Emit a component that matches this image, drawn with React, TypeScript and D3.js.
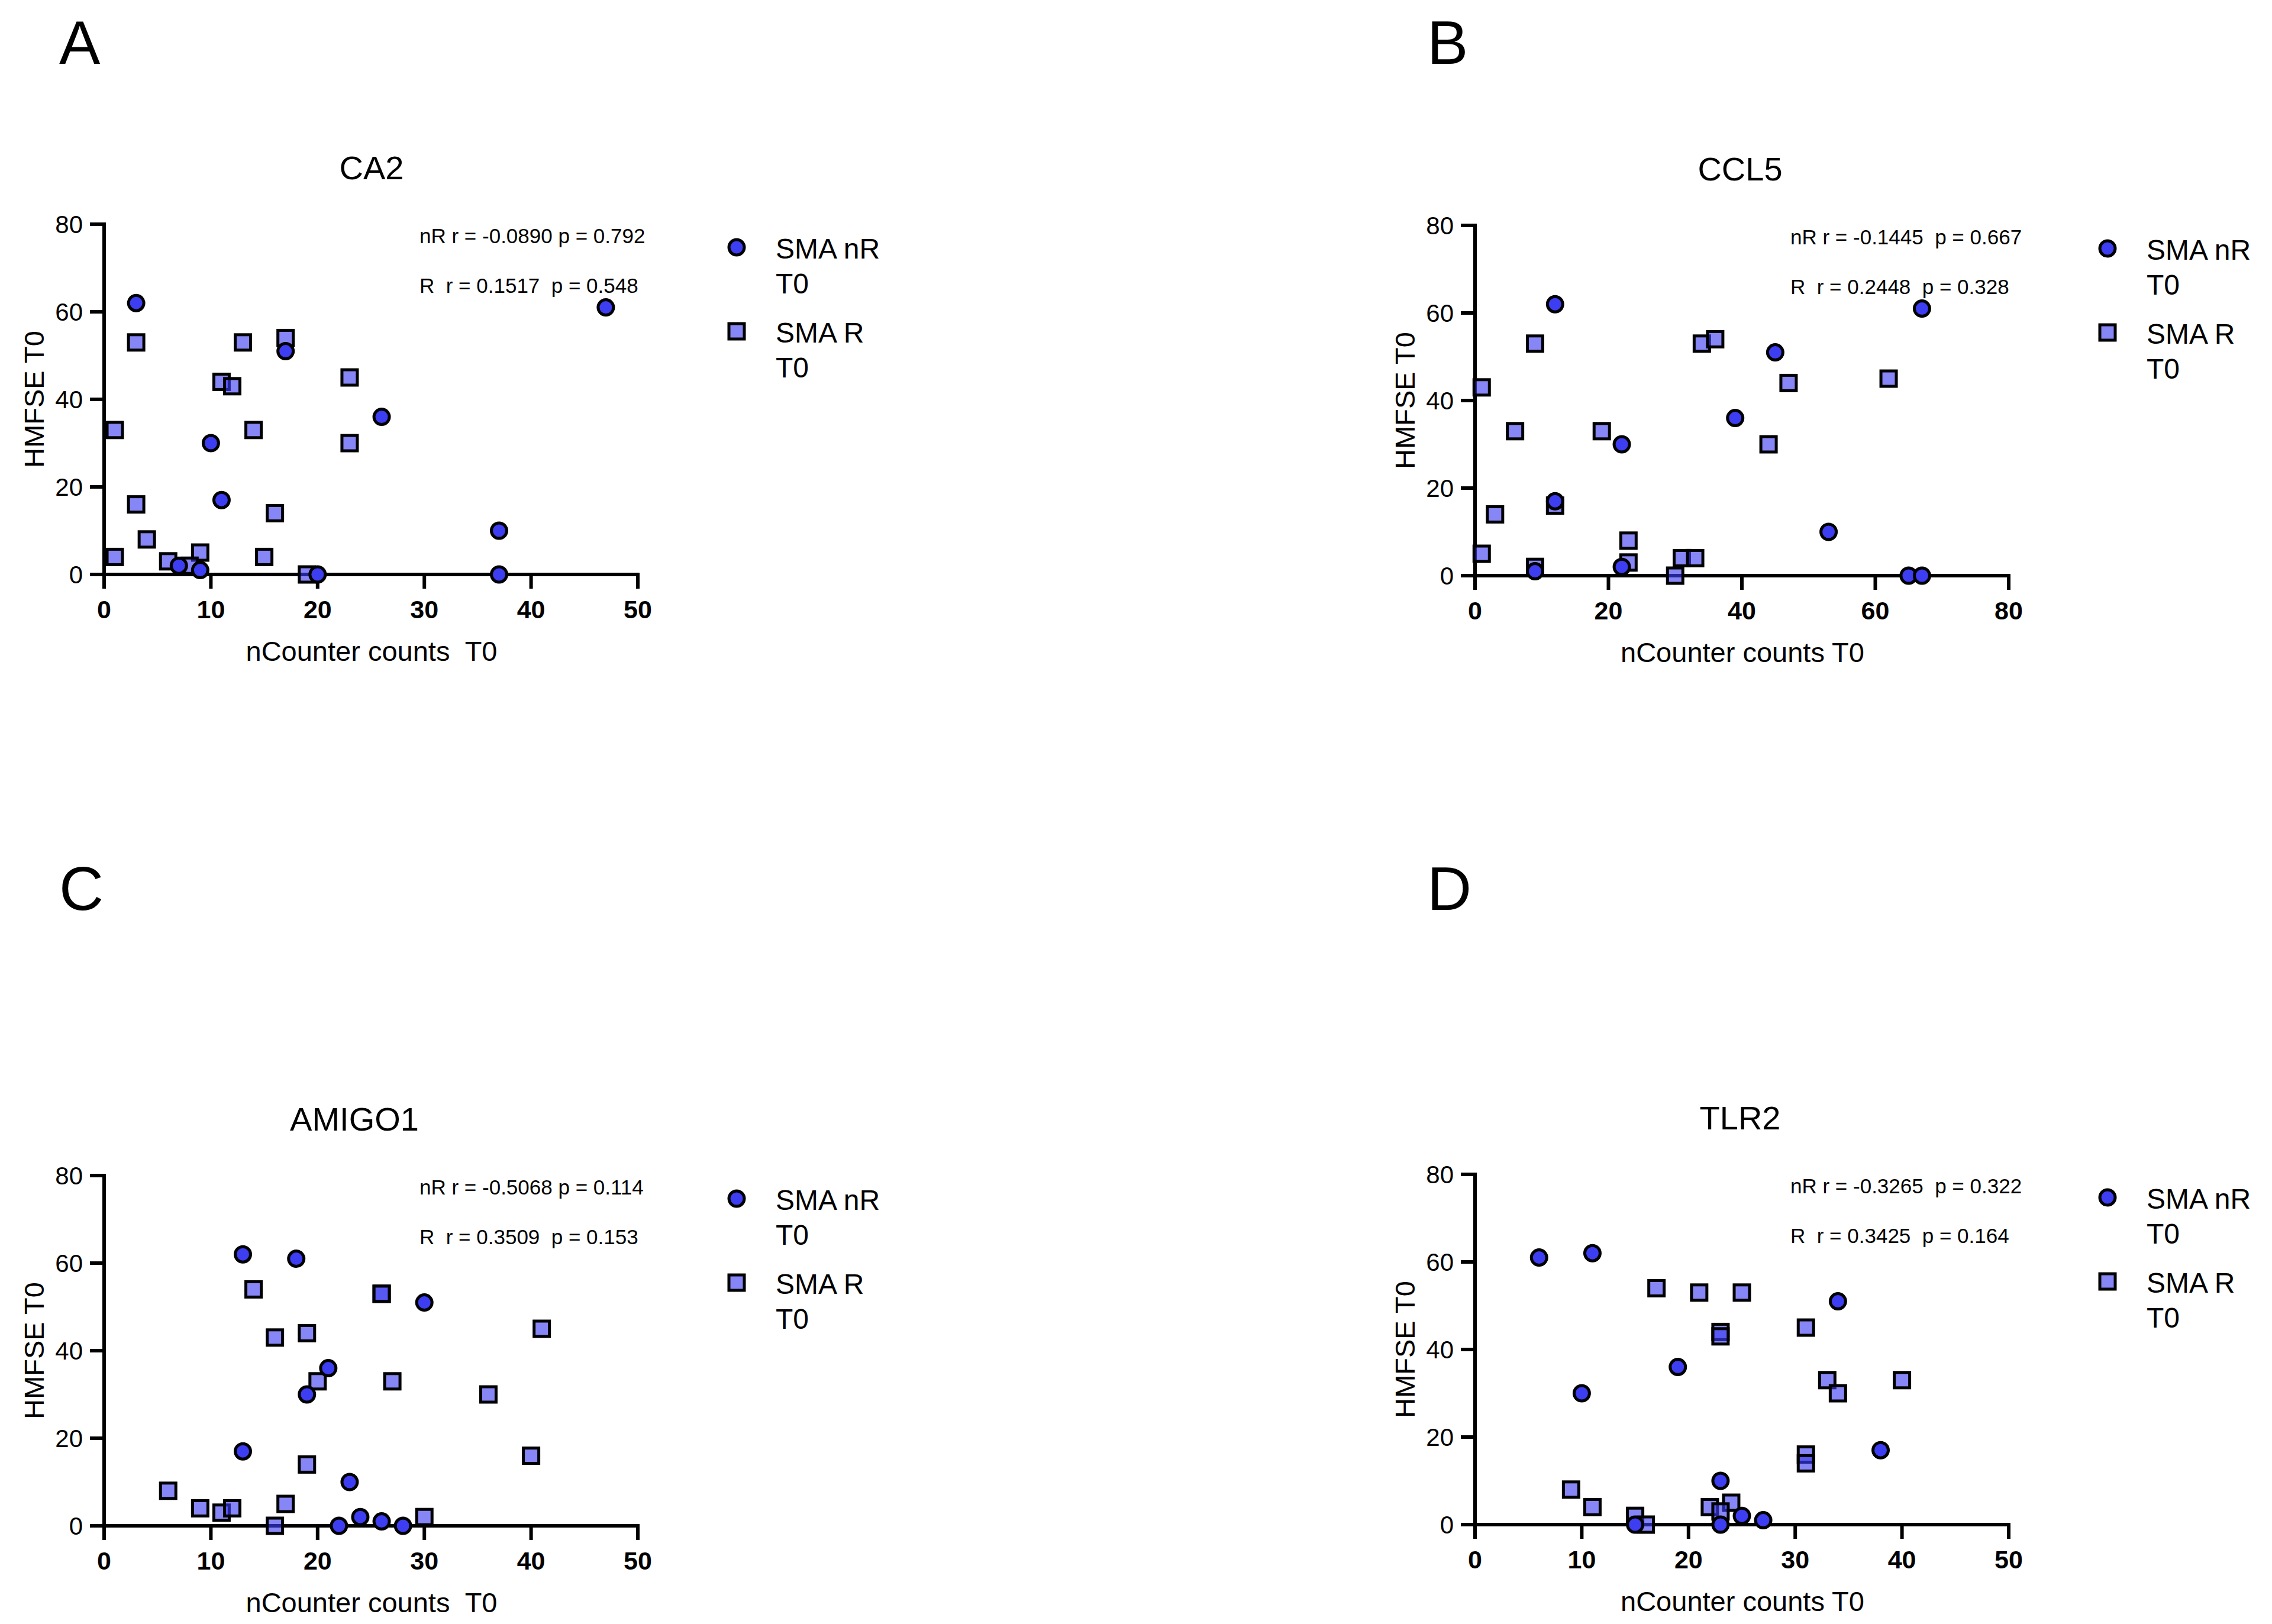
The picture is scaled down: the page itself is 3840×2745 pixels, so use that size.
import * as d3 from "d3";

// HMFSE T0 vs nCounter counts T0, per gene. nR = circles, R = squares
const caNRx = [3, 47, 17, 26, 10, 11, 37, 37, 7, 9, 20];
const caNRy = [62, 61, 51, 36, 30, 17, 10, 0, 2, 1, 0];
const caRx = [3, 17, 13, 11, 12, 23, 1, 14, 23, 3, 16, 4, 1, 15, 9, 6, 8, 19];
const caRy = [53, 54, 53, 44, 43, 45, 33, 33, 30, 16, 14, 8, 4, 4, 5, 3, 2, 0];

const cclNRx = [12, 67, 45, 39, 22, 12, 53, 65, 67, 22, 9];
const cclNRy = [62, 61, 51, 36, 30, 17, 10, 0, 0, 2, 1];
const cclRx = [1, 9, 6, 19, 34, 36, 47, 62, 44, 3, 12, 1, 23, 23, 31, 33, 9, 30];
const cclRy = [43, 53, 33, 33, 53, 54, 44, 45, 30, 14, 16, 5, 8, 3, 4, 4, 2, 0];

const amiNRx = [13, 18, 30, 21, 19, 13, 23, 24, 26, 22, 28];
const amiNRy = [62, 61, 51, 36, 30, 17, 10, 2, 1, 0, 0];
const amiRx = [14, 26, 26, 16, 19, 41, 20, 27, 36, 40, 19, 6, 9, 11, 12, 17, 16, 30];
const amiRy = [54, 53, 53, 43, 44, 45, 33, 33, 30, 16, 14, 8, 4, 3, 4, 5, 0, 2];

const tlrNRx = [6, 11, 34, 19, 10, 38, 23, 25, 27, 15, 23];
const tlrNRy = [61, 62, 51, 36, 30, 17, 10, 2, 1, 0, 0];
const tlrRx = [17, 21, 25, 23, 23, 31, 33, 40, 34, 31, 31, 9, 11, 15, 16, 22, 24, 23];
const tlrRy = [54, 53, 53, 44, 43, 45, 33, 33, 30, 16, 14, 8, 4, 2, 0, 4, 5, 3];

const titles = ["CA2", "CCL5", "AMIGO1", "TLR2"];
const letters = ["A", "B", "C", "D"];
const xLabels = ["nCounter counts  T0", "nCounter counts T0", "nCounter counts  T0", "nCounter counts T0"];
const xMax = [50, 80, 50, 50];
const xStep = [10, 20, 10, 10];
const statsNR = [
  "nR r = -0.0890 p = 0.792",
  "nR r = -0.1445  p = 0.667",
  "nR r = -0.5068 p = 0.114",
  "nR r = -0.3265  p = 0.322",
];
const statsR = [
  "R  r = 0.1517  p = 0.548",
  "R  r = 0.2448  p = 0.328",
  "R  r = 0.3509  p = 0.153",
  "R  r = 0.3425  p = 0.164",
];
const yTicks = [0, 20, 40, 60, 80];

const series = [
  { nrx: caNRx, nry: caNRy, rx: caRx, ry: caRy },
  { nrx: cclNRx, nry: cclNRy, rx: cclRx, ry: cclRy },
  { nrx: amiNRx, nry: amiNRy, rx: amiRx, ry: amiRy },
  { nrx: tlrNRx, nry: tlrNRy, rx: tlrRx, ry: tlrRy },
];

// layout
const W = 902;
const H = 592;
const layout = [
  { ox: 176, oy: 379, lx: 100, ly: 108, tdx: 452 },
  { ox: 2493, oy: 381, lx: 2412, ly: 108, tdx: 448 },
  { ox: 176, oy: 1987, lx: 100, ly: 1538, tdx: 423 },
  { ox: 2493, oy: 1985, lx: 2412, ly: 1538, tdx: 448 },
];

const FONT = "'Liberation Sans', Arial, sans-serif";
const NR_FILL = "#3d3df2";
const R_FILL = "#3c3cf0";
const TICK = 24;
const SQ = 26;
const CR = 13;

function Panel({ i }: { i: number }) {
  const { ox, oy, lx, ly, tdx } = layout[i];
  const s = series[i];
  const x = d3.scaleLinear().domain([0, xMax[i]]).range([ox, ox + W]);
  const y = d3.scaleLinear().domain([0, 80]).range([oy + H, oy]);
  const xTicks = d3.range(0, xMax[i] + 1, xStep[i]);
  return (
    <g fontFamily={FONT}>
      <text x={lx} y={ly} fontSize={104}>
        {letters[i]}
      </text>
      <text x={ox + tdx} y={oy - 76} fontSize={56} textAnchor="middle">
        {titles[i]}
      </text>
      {/* axes */}
      <path
        d={`M${ox},${oy} V${oy + H} H${ox + W}`}
        fill="none"
        stroke="#000"
        strokeWidth={6}
        strokeLinecap="square"
      />
      {yTicks.map((t) => (
        <g key={"y" + t}>
          <line x1={ox - TICK} x2={ox} y1={y(t)} y2={y(t)} stroke="#000" strokeWidth={6} />
          <text x={ox - 36} y={y(t)} dy="0.36em" fontSize={42} textAnchor="end">
            {t}
          </text>
        </g>
      ))}
      {xTicks.map((t) => (
        <g key={"x" + t}>
          <line x1={x(t)} x2={x(t)} y1={oy + H} y2={oy + H + TICK} stroke="#000" strokeWidth={6} />
          <text x={x(t)} y={oy + H + 74} fontSize={43} fontWeight="bold" textAnchor="middle">
            {t}
          </text>
        </g>
      ))}
      <text x={ox + 452} y={oy + H + 146} fontSize={47} textAnchor="middle" style={{ whiteSpace: "pre" }}>
        {xLabels[i]}
      </text>
      <text
        transform={`translate(${ox - 102},${oy + H / 2}) rotate(-90)`}
        fontSize={47}
        textAnchor="middle"
      >
        HMFSE T0
      </text>
      {/* stats */}
      <text x={ox + 533} y={oy + 32} fontSize={35} style={{ whiteSpace: "pre" }}>
        {statsNR[i]}
      </text>
      <text x={ox + 533} y={oy + 116} fontSize={35} style={{ whiteSpace: "pre" }}>
        {statsR[i]}
      </text>
      {/* R squares */}
      {s.rx.map((v, k) => (
        <rect
          key={"r" + k}
          x={x(v) - SQ / 2}
          y={y(s.ry[k]) - SQ / 2}
          width={SQ}
          height={SQ}
          fill={R_FILL}
          fillOpacity={0.62}
          stroke="#000"
          strokeWidth={5}
        />
      ))}
      {/* nR circles */}
      {s.nrx.map((v, k) => (
        <circle
          key={"n" + k}
          cx={x(v)}
          cy={y(s.nry[k])}
          r={CR}
          fill={NR_FILL}
          stroke="#000"
          strokeWidth={5}
        />
      ))}
      {/* legend */}
      <circle cx={ox + 1069} cy={oy + 39} r={CR} fill={NR_FILL} stroke="#000" strokeWidth={5} />
      <text x={ox + 1135} y={oy + 58} fontSize={48}>SMA nR</text>
      <text x={ox + 1135} y={oy + 117} fontSize={48}>T0</text>
      <rect
        x={ox + 1069 - SQ / 2}
        y={oy + 181 - SQ / 2}
        width={SQ}
        height={SQ}
        fill={R_FILL}
        fillOpacity={0.62}
        stroke="#000"
        strokeWidth={5}
      />
      <text x={ox + 1135} y={oy + 200} fontSize={48}>SMA R</text>
      <text x={ox + 1135} y={oy + 259} fontSize={48}>T0</text>
    </g>
  );
}

export default function App() {
  return (
    <svg
      width={3840}
      height={2745}
      style={{ position: "absolute", left: 0, top: 0, background: "#fff" }}
    >
      <rect width={3840} height={2745} fill="#fff" />
      {[0, 1, 2, 3].map((i) => (
        <Panel key={i} i={i} />
      ))}
    </svg>
  );
}
